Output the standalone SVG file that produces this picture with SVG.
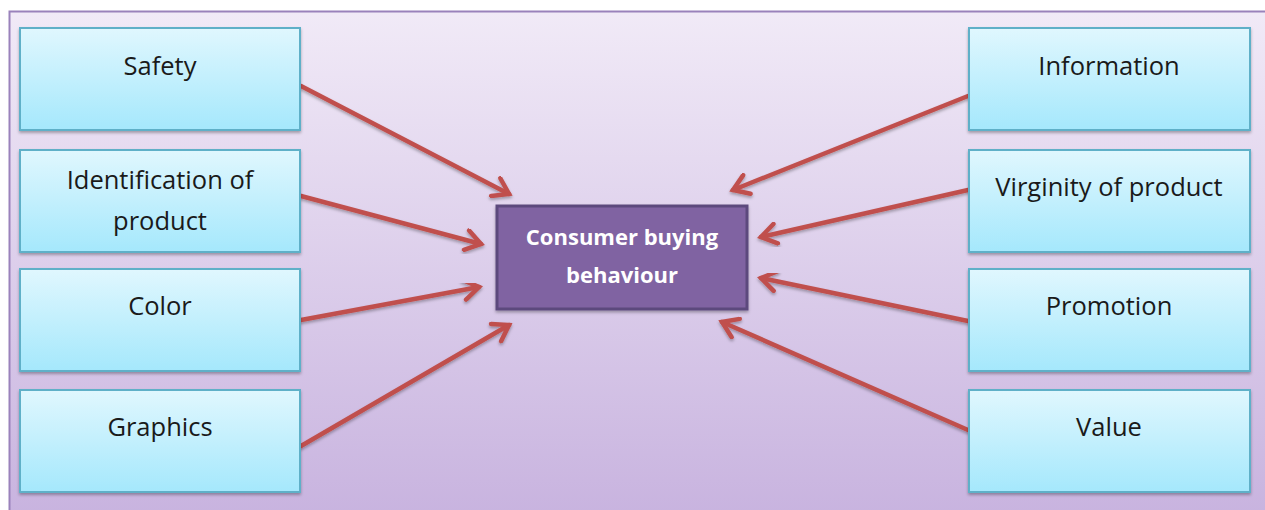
<svg xmlns="http://www.w3.org/2000/svg" width="1265" height="510" viewBox="0 0 1265 510">
  <defs>
    <linearGradient id="bg" x1="0" y1="0" x2="0" y2="1">
      <stop offset="0" stop-color="#f1eaf7"/>
      <stop offset="1" stop-color="#c8b3df"/>
    </linearGradient>
    <linearGradient id="box" x1="0" y1="0" x2="0" y2="1">
      <stop offset="0" stop-color="#e0f7fe"/>
      <stop offset="1" stop-color="#a5e8fc"/>
    </linearGradient>
    <filter id="shadow" x="-10%" y="-10%" width="120%" height="130%">
      <feDropShadow dx="0" dy="2" stdDeviation="1.5" flood-color="#000" flood-opacity="0.3"/>
    </filter>
    <marker id="head" viewBox="-20 -12 24 24" markerWidth="24" markerHeight="24" refX="0" refY="0" orient="auto" markerUnits="userSpaceOnUse">
      <path d="M-15,-10 L0,0 L-15,10" fill="none" stroke="#c0504d" stroke-width="4.5" stroke-linecap="round"/>
    </marker>
  </defs>
  <style>
    .item rect { fill: url(#box); stroke: #5fb0c8; stroke-width: 2; filter: url(#shadow); }
    .item text { font-family: "Open Sans", "Liberation Sans", sans-serif; font-size: 25.5px; fill: #1a1a1a; text-anchor: middle; }
    .link { stroke: #c0504d; stroke-width: 4.5; fill: none; stroke-linecap: round; marker-end: url(#head); filter: url(#shadow); }
    .core rect { fill: #8064a2; stroke: #5c4a7d; stroke-width: 3; filter: url(#shadow); }
    .core text { font-family: "Open Sans", "Liberation Sans", sans-serif; font-size: 22px; font-weight: bold; fill: #ffffff; text-anchor: middle; }
  </style>

  <!-- backdrop panel -->
  <rect x="9.5" y="11.5" width="1262" height="505" fill="url(#bg)" stroke="#9a82bb" stroke-width="2"/>

  <!-- connectors -->
  <g id="connectors">
    <line class="link" x1="301" y1="86" x2="509" y2="194"/>
    <line class="link" x1="301" y1="196" x2="481" y2="244"/>
    <line class="link" x1="301" y1="320" x2="479" y2="287"/>
    <line class="link" x1="301" y1="446" x2="509" y2="325"/>
    <line class="link" x1="968" y1="96" x2="733" y2="190"/>
    <line class="link" x1="968" y1="190" x2="761" y2="237"/>
    <line class="link" x1="968" y1="321" x2="761" y2="278"/>
    <line class="link" x1="968" y1="430" x2="722" y2="322"/>
  </g>

  <!-- left column -->
  <g id="safety" class="item">
    <rect x="20" y="28" width="280" height="102"/>
    <text x="160" y="75">Safety</text>
  </g>
  <g id="identification" class="item">
    <rect x="20" y="150" width="280" height="102"/>
    <text x="160" y="189">Identification of</text>
    <text x="160" y="230">product</text>
  </g>
  <g id="color" class="item">
    <rect x="20" y="269" width="280" height="102"/>
    <text x="160" y="315">Color</text>
  </g>
  <g id="graphics" class="item">
    <rect x="20" y="390" width="280" height="102"/>
    <text x="160" y="436">Graphics</text>
  </g>

  <!-- right column -->
  <g id="information" class="item">
    <rect x="969" y="28" width="281" height="102"/>
    <text x="1109" y="75">Information</text>
  </g>
  <g id="virginity" class="item">
    <rect x="969" y="150" width="281" height="102"/>
    <text x="1109" y="196">Virginity of product</text>
  </g>
  <g id="promotion" class="item">
    <rect x="969" y="269" width="281" height="102"/>
    <text x="1109" y="315">Promotion</text>
  </g>
  <g id="value" class="item">
    <rect x="969" y="390" width="281" height="102"/>
    <text x="1109" y="436">Value</text>
  </g>

  <!-- central node -->
  <g id="consumer-buying-behaviour" class="core">
    <rect x="497" y="206" width="250" height="103"/>
    <text x="622" y="245">Consumer buying</text>
    <text x="622" y="283">behaviour</text>
  </g>
</svg>
